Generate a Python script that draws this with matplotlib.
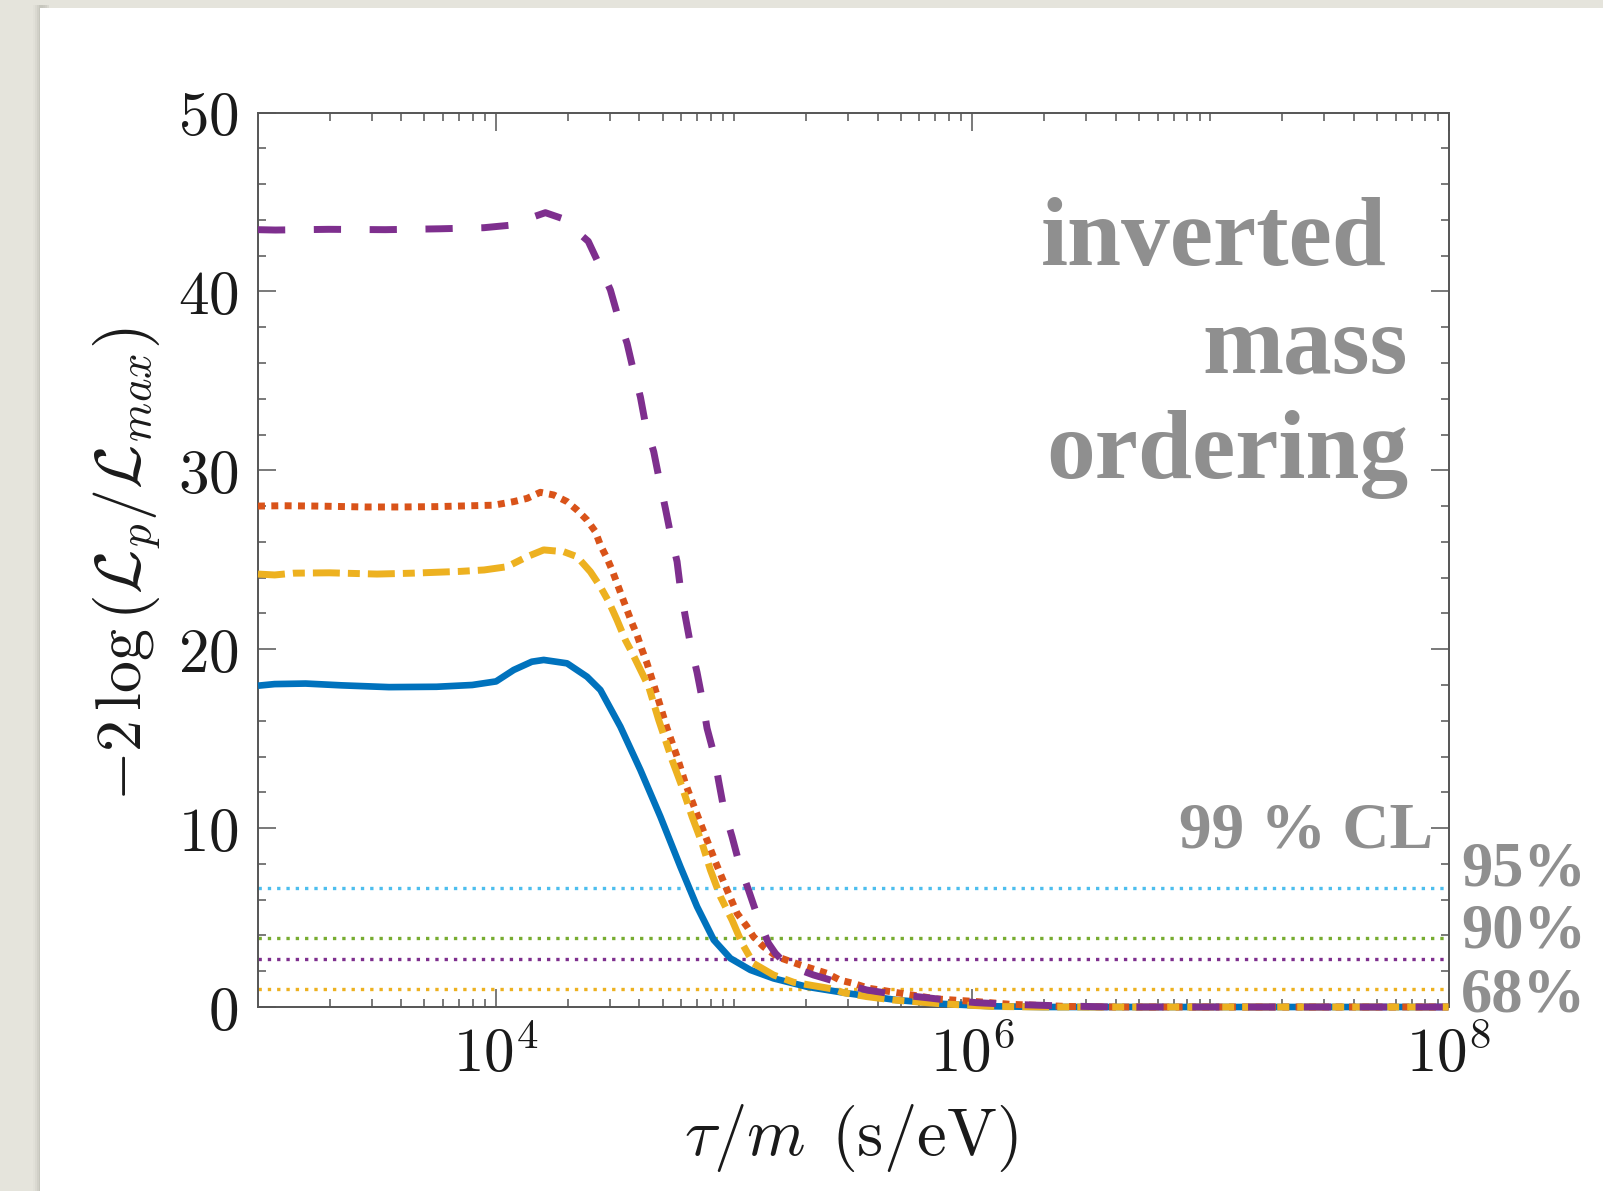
import numpy as np
import matplotlib
matplotlib.use("Agg")
import matplotlib.pyplot as plt
from matplotlib.patches import Rectangle
from matplotlib.ticker import FixedLocator, FixedFormatter, NullFormatter

plt.rcParams['mathtext.fontset'] = 'cm'
plt.rcParams['lines.scale_dashes'] = False

# ---------------- data (x as log10(tau/m [s/eV]), y = -2 log(Lp/Lmax)) ----------------
blue_logx = [3.0, 3.07, 3.2, 3.35, 3.55, 3.75, 3.9, 4.0, 4.074, 4.15, 4.2, 4.298, 4.382,
             4.438, 4.522, 4.606, 4.69, 4.774, 4.844, 4.914, 4.984, 5.068, 5.165, 5.306,
             5.474, 5.683, 5.88, 6.09, 6.3, 8.0]
blue_y = [17.96, 18.05, 18.08, 17.98, 17.88, 17.9, 18.0, 18.2, 18.84, 19.3, 19.4, 19.21, 18.46,
          17.72, 15.67, 13.25, 10.64, 7.84, 5.61, 3.75, 2.72, 2.07, 1.6, 1.13,
          0.77, 0.39, 0.17, 0.04, 0.0, 0.0]

yellow_logx = [3.0, 3.07, 3.15, 3.3, 3.5, 3.65, 3.85, 3.95, 4.046, 4.13, 4.2, 4.284, 4.34,
               4.396, 4.438, 4.473, 4.508, 4.543, 4.575, 4.641, 4.683, 4.739, 4.781, 4.823,
               4.865, 4.9, 4.942, 4.991, 5.033, 5.081, 5.165, 5.25, 5.417, 5.459, 5.557,
               5.669, 5.879, 6.09, 6.3, 8.0]
yellow_y = [24.2, 24.15, 24.25, 24.27, 24.2, 24.25, 24.35, 24.43, 24.61, 25.17, 25.55, 25.45, 25.17,
            24.33, 23.49, 22.66, 21.63, 20.51, 19.7, 17.9, 16.04, 13.81, 12.31, 10.64,
            9.15, 7.66, 6.17, 4.86, 3.56, 2.44, 1.79, 1.38, 1.0, 0.8, 0.58,
            0.39, 0.17, 0.03, 0.0, 0.0]

red_logx = [3.0, 3.1, 3.25, 3.45, 3.6, 3.75, 3.9, 3.99, 4.074, 4.13, 4.186, 4.242, 4.298,
            4.34, 4.382, 4.417, 4.438, 4.466, 4.487, 4.508, 4.529, 4.55, 4.571, 4.592,
            4.613, 4.634, 4.669, 4.718, 4.76, 4.795, 4.837, 4.872, 4.921, 4.97, 5.012,
            5.054, 5.081, 5.123, 5.18, 5.278, 5.39, 5.445, 5.501, 5.564, 5.613, 5.732,
            5.851, 6.02, 6.16, 6.4, 6.6, 8.0]
red_y = [28.0, 28.02, 28.0, 27.95, 27.95, 27.97, 28.02, 28.05, 28.25, 28.43, 28.77, 28.62, 28.25,
         27.78, 27.22, 26.57, 25.82, 25.08, 24.43, 23.68, 22.93, 22.19, 21.45, 20.79,
         19.96, 19.21, 17.72, 15.58, 13.99, 12.5, 11.01, 9.8, 8.12, 6.54, 5.24,
         4.49, 3.93, 3.37, 2.81, 2.35, 1.88, 1.5, 1.32, 1.05, 0.95, 0.7,
         0.45, 0.3, 0.15, 0.03, 0.0, 0.0]

purple_logx = [3.0, 3.073, 3.297, 3.535, 3.766, 3.948, 4.06, 4.12, 4.207, 4.277, 4.387, 4.424,
               4.48, 4.508, 4.55, 4.571, 4.606, 4.627, 4.662, 4.683, 4.711, 4.732, 4.76,
               4.774, 4.795, 4.816, 4.844, 4.865, 4.886, 4.914, 4.935, 4.956, 4.991, 5.019,
               5.06, 5.096, 5.144, 5.173, 5.207, 5.27, 5.333, 5.432, 5.557, 5.669, 5.795,
               5.893, 6.02, 6.16, 6.4, 6.6, 8.0]
purple_y = [43.45, 43.43, 43.47, 43.45, 43.5, 43.56, 43.7, 44.0, 44.4, 44.08, 42.8, 41.75,
            40.08, 38.77, 37.1, 35.9, 34.1, 32.6, 31.04, 29.64, 27.87, 26.48, 24.9,
            23.4, 21.8, 20.3, 18.7, 17.26, 15.58, 14.18, 12.6, 11.1, 9.52, 8.12,
            6.54, 5.14, 3.56, 3.0, 2.53, 2.1, 1.79, 1.4, 0.95, 0.72, 0.54,
            0.39, 0.24, 0.15, 0.05, 0.0, 0.0]

cl_values = [6.63, 3.84, 2.71, 1.0]
cl_colors = ['#4dbeee', '#77ac30', '#7e2f8e', '#edb120']
cl_labels = ['95%', '90%', '68%']

x_major = [1e4, 1e6, 1e8]
x_major_labels = [r'$10^{4}$', r'$10^{6}$', r'$10^{8}$']
y_major = [0, 10, 20, 30, 40, 50]
y_major_labels = [r'$0$', r'$10$', r'$20$', r'$30$', r'$40$', r'$50$']

# ---------------- figure ----------------
W, H = 1603, 1191
fig = plt.figure(figsize=(W / 100, H / 100), dpi=100)
fig.patch.set_facecolor('#e5e4dc')

def fx(px):
    return px / W

def fy(py):
    return 1 - py / H

# card shadow + white card
for i, a in enumerate([0.04, 0.07, 0.10, 0.14]):
    fig.patches.append(Rectangle((fx(33 + i * 2), 0), fx(10), fy(5), transform=fig.transFigure,
                                 facecolor='#8a8a80', alpha=a, edgecolor='none', zorder=-2))
fig.patches.append(Rectangle((fx(40), 0), 1, fy(8), transform=fig.transFigure,
                             facecolor='white', edgecolor='none', zorder=-1))

ax = fig.add_axes([fx(258), fy(1007), fx(1448.5 - 258), (1007 - 112.5) / H])
ax.set_zorder(2)
ax.set_facecolor('white')
ax.set_xscale('log')
ax.set_xlim(1e3, 1e8)
ax.set_ylim(0, 50)

# CL lines
for v, c in zip(cl_values, cl_colors):
    ax.axhline(v, color=c, lw=2.4, dashes=(2.4, 4.3), dash_capstyle='butt', zorder=1.5)

common = dict(clip_on=False, dash_capstyle='butt', solid_capstyle='butt')
ax.plot(10 ** np.array(blue_logx), blue_y, color='#0072bd', lw=4.8, zorder=3, **common)
ax.plot(10 ** np.array(yellow_logx), yellow_y, color='#edb120', lw=5.0,
        dashes=(19.4, 5.8, 8.6, 5.8), zorder=3.2, **common)
ax.plot(10 ** np.array(red_logx), red_y, color='#d95319', lw=5.0,
        dashes=(5.0, 4.6), zorder=3.1, **common)
ax.plot(10 ** np.array(purple_logx), purple_y, color='#7e2f8e', lw=5.0,
        dashes=(19.6, 20.6), zorder=3.3, **common)

# axes styling
for s in ax.spines.values():
    s.set_color('#555555')
    s.set_linewidth(1.4)

ax.xaxis.set_major_locator(FixedLocator(x_major))
ax.xaxis.set_major_formatter(FixedFormatter(x_major_labels))
minors = [k * 10.0 ** d for d in range(3, 8) for k in range(1, 10)
          if k * 10.0 ** d not in x_major and 1e3 < k * 10.0 ** d < 1e8]
ax.xaxis.set_minor_locator(FixedLocator(minors))
ax.xaxis.set_minor_formatter(NullFormatter())

ax.yaxis.set_major_locator(FixedLocator(y_major))
ax.yaxis.set_major_formatter(FixedFormatter(y_major_labels))
ax.yaxis.set_minor_locator(FixedLocator(list(range(2, 50, 2))))

ax.tick_params(which='both', direction='in', top=True, right=True, color='#555555',
               width=1.1, labelsize=44, labelcolor='#1a1a1a')
ax.tick_params(which='major', length=13)
ax.tick_params(which='minor', length=6)
ax.tick_params(axis='y', which='major', pad=14)
ax.tick_params(axis='x', which='major', pad=14)

fig.text(fx(851), fy(1138), r'$\tau/m\;\,(\mathrm{s/eV})$', fontsize=48, color='#1a1a1a',
         ha='center', va='center')
fig.text(fx(128), fy(564), r'$-2\,\log\left(\mathcal{L}_p/\mathcal{L}_{max}\right)$',
         fontsize=46, color='#1a1a1a', rotation=90, ha='center', va='center')

grey = '#8f8f8f'
tfont = dict(family='Liberation Serif', fontweight='bold', color=grey)
fig.text(fx(1387), fy(265), 'inverted', fontsize=70, ha='right', va='baseline', **tfont)
fig.text(fx(1408), fy(372), 'mass', fontsize=70, ha='right', va='baseline', **tfont)
fig.text(fx(1408), fy(478), 'ordering', fontsize=70, ha='right', va='baseline', **tfont)

fig.text(fx(1433), fy(848), '99 % CL', fontsize=47, ha='right', va='baseline', **tfont)
for lbl, base in zip(cl_labels, [885, 947, 1012]):
    fig.text(fx(1461), fy(base), lbl, fontsize=45, ha='left', va='baseline', **tfont)

fig.savefig('out.png', dpi=100, facecolor=fig.get_facecolor())
